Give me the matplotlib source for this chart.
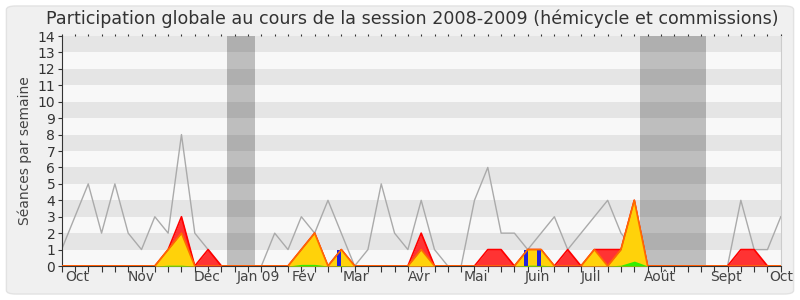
import matplotlib
matplotlib.use("Agg")
import matplotlib.pyplot as plt
from matplotlib.patches import FancyBboxPatch

# weekly values, session 2008-2009 (week 0 = first week of October)
weeks = list(range(55))
seances = [1, 3, 5, 2, 5, 2, 1, 3, 2, 8, 2, 1, 0, 0, 0, 0, 2, 1, 3, 2,
           4, 2, 0, 1, 5, 2, 1, 4, 1, 0, 0, 4, 6, 2, 2, 1, 2, 3, 1, 2,
           3, 4, 2, 1, 0, 0, 0, 0, 0, 0, 0, 4, 1, 1, 3]
presences = [0, 0, 0, 0, 0, 0, 0, 0, 1, 3, 0, 1, 0, 0, 0, 0, 0, 0, 1, 2,
             0, 1, 0, 0, 0, 0, 0, 2, 0, 0, 0, 0, 1, 1, 0, 1, 1, 0, 1, 0,
             1, 1, 1, 4, 0, 0, 0, 0, 0, 0, 0, 1, 1, 0, 0]
commission = [0, 0, 0, 0, 0, 0, 0, 0, 1, 2, 0, 0, 0, 0, 0, 0, 0, 0, 1, 2,
              0, 1, 0, 0, 0, 0, 0, 1, 0, 0, 0, 0, 0, 0, 0, 1, 1, 0, 0, 0,
              1, 0, 1, 4, 0, 0, 0, 0, 0, 0, 0, 0, 0, 0, 0]
interventions = [0, 0, 0, 0, 0, 0, 0, 0, 0.05, 0.05, 0, 0, 0, 0, 0, 0, 0, 0, 0.1, 0.1,
                 0, 0.03, 0, 0, 0, 0, 0, 0, 0, 0, 0, 0, 0, 0, 0, 0.05, 0.05, 0, 0, 0,
                 0, 0, 0.05, 0.3, 0, 0, 0, 0, 0, 0, 0, 0, 0, 0, 0]
question_weeks = [21, 35, 36]
questions = [1, 1, 1]

vacances = [(12.4, 14.5), (43.4, 48.4)]
month_pos = [0.25, 4.92, 9.93, 13.13, 17.25, 21.1, 26.0, 30.2, 34.8, 39.0, 43.7, 48.7, 53.1]
month_labels = ["Oct", "Nov", "Déc", "Jan 09", "Fév", "Mar", "Avr", "Mai",
                "Juin", "Juil", "Août", "Sept", "Oct"]

fig = plt.figure(figsize=(8, 3), dpi=100)
fig.patch.set_facecolor("white")
fig.patches.append(FancyBboxPatch((0.008, 0.02), 0.984, 0.96, boxstyle="round,pad=0,rounding_size=0.012",
                                  transform=fig.transFigure, facecolor="#f0f0f0",
                                  edgecolor="#e2e2e2", linewidth=1, zorder=-10))

ax = fig.add_axes([0.077, 0.1133, 0.899, 0.7667])
ax.set_facecolor("#f8f8f8")

# gray stripes and holidays
for y in range(1, 14, 2):
    ax.axhspan(y, y + 1, color="black", alpha=0.075, linewidth=0, zorder=1)
for a, b in vacances:
    ax.axvspan(a, b, color="#bebebe", linewidth=0, zorder=0.5)

ax.plot(weeks, seances, color="#aaaaaa", linewidth=1, zorder=2)
ax.fill_between(weeks, presences, color="#ff3333", linewidth=0, zorder=3)
ax.plot(weeks, presences, color="#ff0000", linewidth=1.2, zorder=3.1)
ax.fill_between(weeks, commission, color="#ffd20a", linewidth=0, zorder=4)
ax.fill_between(weeks, interventions, color="#33ee00", linewidth=0, zorder=5)
ax.bar(question_weeks, questions, width=-0.3, align="edge", color="#2222dd", zorder=6)
ax.plot(weeks, commission, color="#ff6a00", linewidth=1.2, zorder=7)

ax.set_xlim(0, 54)
ax.set_ylim(0, 14)
ax.set_yticks(range(15))
ax.xaxis.remove_overlapping_locs = False
ax.set_xticks(weeks)
ax.set_xticklabels([])
ax.set_xticks(month_pos, minor=True)
ax.set_xticklabels(month_labels, minor=True, ha="left")
ax.tick_params(axis="x", which="major", direction="out", length=4, color="#333333",
               top=True, bottom=True)
ax.tick_params(axis="x", which="minor", length=0, pad=3, labelsize=10, labelcolor="#444444")
ax.tick_params(axis="y", direction="out", length=3, color="#333333", pad=1.5,
               labelsize=10, labelcolor="#333333")
for t in ax.xaxis.get_major_ticks():
    t.tick2line.set_markersize(1.2)

ax.spines["top"].set_visible(False)
ax.spines["right"].set_color("#cccccc")
ax.spines["left"].set_color("#333333")
ax.spines["bottom"].set_color("#333333")

ax.set_ylabel("Séances par semaine", fontsize=10, color="#444444", labelpad=4)
fig.suptitle("Participation globale au cours de la session 2008-2009 (hémicycle et commissions)",
             fontsize=12.6, color="#333333", x=0.515, y=0.97)

fig.savefig("out.png", dpi=100, facecolor=fig.get_facecolor())
